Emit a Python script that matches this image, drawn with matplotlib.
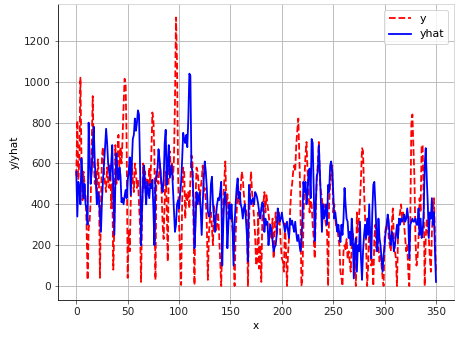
import numpy as np
import matplotlib
matplotlib.use("Agg")
import matplotlib.pyplot as plt

y_true = [
    540, 810, 520, 620, 1020, 640, 420, 560, 500, 440,
    300, 30, 280, 320, 420, 700, 930, 620, 500, 560,
    450, 620, 520, 40, 400, 640, 680, 560, 500, 460,
    580, 520, 480, 600, 380, 500, 80, 300, 690, 500,
    620, 740, 560, 680, 600, 720, 880, 1015, 990, 700,
    40, 270, 170, 420, 600, 520, 460, 600, 560, 480,
    520, 400, 300, 20, 350, 600, 480, 560, 450, 520,
    440, 580, 500, 640, 850, 820, 640, 30, 560, 520,
    500, 600, 560, 460, 300, 230, 420, 560, 380, 120,
    630, 660, 560, 600, 520, 620, 900, 1315, 1100, 560,
    300, 150, 5, 420, 580, 560, 330, 450, 420, 460,
    380, 520, 640, 620, 300, 5, 420, 580, 560, 500,
    400, 480, 520, 590, 460, 480, 420, 300, 30, 250,
    330, 360, 280, 200, 400, 320, 265, 300, 360, 250,
    120, 0, 240, 420, 520, 610, 400, 450, 350, 410,
    380, 330, 280, 200, 0, 240, 360, 460, 420, 400,
    480, 560, 527, 450, 400, 380, 330, 0, 300, 460,
    560, 460, 400, 330, 250, 100, 120, 360, 85, 200,
    20, 330, 400, 460, 360, 445, 400, 360, 300, 250,
    235, 330, 135, 280, 360, 250, 300, 360, 300, 200,
    135, 120, 70, 315, 180, 0, 160, 235, 360, 460,
    500, 560, 590, 560, 690, 760, 820, 640, 430, 0,
    37, 300, 527, 640, 705, 560, 460, 360, 420, 400,
    300, 235, 135, 360, 527, 600, 705, 527, 462, 430,
    360, 400, 330, 300, 265, 0, 400, 495, 560, 590,
    360, 400, 330, 280, 300, 235, 200, 70, 40, 0,
    170, 200, 180, 230, 135, 170, 120, 70, 200, 265,
    170, 135, 0, 360, 265, 330, 415, 527, 675, 660,
    462, 330, 200, 0, 100, 300, 235, 100, 135, 0,
    235, 300, 170, 250, 200, 120, 150, 100, 40, 0,
    235, 280, 300, 330, 235, 200, 170, 300, 380, 235,
    170, 135, 0, 235, 330, 360, 400, 330, 360, 300,
    235, 170, 200, 70, 0, 330, 790, 840, 690, 527,
    235, 100, 135, 235, 430, 360, 690, 690, 400, 0,
    235, 330, 265, 235, 135, 70, 265, 360, 430, 235,
    70,
]

y_hat = [
    560, 340, 510, 480, 400, 625, 520, 430, 500, 400,
    380, 300, 800, 620, 500, 560, 680, 780, 600, 520,
    400, 460, 430, 350, 265, 420, 520, 600, 680, 770,
    700, 600, 560, 520, 600, 690, 480, 250, 500, 650,
    560, 520, 580, 540, 410, 430, 400, 440, 470, 430,
    520, 560, 630, 445, 600, 720, 740, 820, 760, 800,
    860, 840, 600, 200, 380, 520, 590, 480, 400, 510,
    470, 430, 500, 480, 520, 380, 200, 510, 540, 575,
    670, 620, 560, 490, 460, 520, 700, 765, 495, 600,
    690, 530, 560, 590, 480, 380, 265, 300, 400, 420,
    380, 450, 510, 620, 750, 720, 700, 740, 680, 820,
    1040, 1030, 590, 560, 420, 185, 300, 460, 400, 430,
    460, 380, 250, 400, 520, 610, 560, 480, 365, 340,
    350, 500, 535, 400, 330, 265, 350, 400, 430, 420,
    460, 510, 100, 300, 430, 460, 380, 185, 300, 400,
    330, 400, 300, 100, 300, 400, 480, 527, 430, 460,
    400, 380, 330, 380, 400, 330, 250, 120, 495, 430,
    400, 420, 430, 400, 460, 450, 430, 400, 360, 330,
    380, 410, 400, 265, 330, 300, 315, 200, 260, 300,
    265, 220, 170, 190, 200, 250, 380, 350, 315, 330,
    360, 320, 300, 265, 290, 315, 270, 235, 330, 300,
    320, 290, 265, 315, 260, 220, 250, 210, 170, 200,
    330, 510, 460, 510, 400, 460, 560, 575, 430, 720,
    700, 480, 220, 400, 540, 560, 690, 560, 410, 265,
    400, 330, 360, 400, 300, 495, 460, 590, 610, 560,
    460, 330, 360, 315, 265, 300, 250, 215, 300, 250,
    330, 480, 400, 330, 315, 235, 265, 200, 330, 250,
    37, 200, 235, 70, 200, 170, 315, 135, 30, 170,
    250, 300, 235, 330, 250, 400, 235, 135, 360, 495,
    510, 400, 265, 170, 330, 235, 200, 135, 70, 150,
    200, 265, 300, 350, 315, 235, 200, 265, 235, 170,
    200, 250, 300, 235, 330, 300, 330, 315, 330, 350,
    315, 330, 380, 330, 135, 300, 315, 330, 315, 320,
    330, 300, 300, 380, 250, 330, 235, 265, 360, 590,
    675, 527, 400, 235, 360, 330, 430, 300, 360, 170,
    20,
]

x = np.arange(len(y_true))

W, H, DPI = 461, 337, 72
fig = plt.figure(figsize=(W / DPI, H / DPI), dpi=DPI)
ax = fig.add_axes([58 / W, 1 - 300 / H, (454 - 58) / W, (300 - 4) / H])

ax.grid(True, color="#b0b0b0", linewidth=0.8)
ax.set_axisbelow(True)
ax.plot(x, y_true, "r--", linewidth=1.8, label="y")
ax.plot(x, y_hat, "b-", linewidth=1.8, label="yhat")

ax.set_xlim(-17.8, 367.5)
ax.set_ylim(-68.6, 1381)
ax.set_xticks([0, 50, 100, 150, 200, 250, 300, 350])
ax.set_yticks([0, 200, 400, 600, 800, 1000, 1200])
ax.set_xlabel("x", fontsize=10.5)
ax.set_ylabel("y/yhat", fontsize=10.5)

for side in ["top", "right"]:
    ax.spines[side].set_color("#d0d0d0")
for side in ["left", "bottom"]:
    ax.spines[side].set_color("black")
ax.tick_params(colors="#555555", labelcolor="#222222", labelsize=10.5)

ax.legend(loc="upper right", fontsize=11)

fig.savefig("out.png", dpi=DPI)
